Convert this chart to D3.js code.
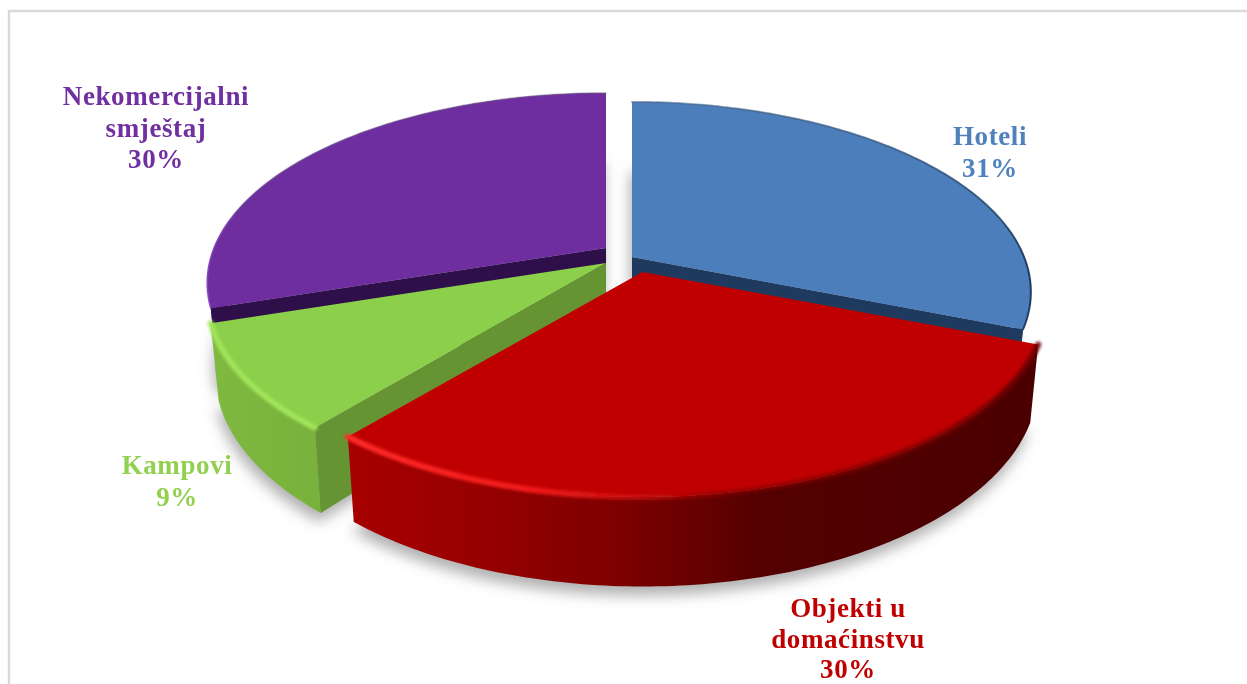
<!DOCTYPE html>
<html><head><meta charset="utf-8">
<script src="https://cdn.jsdelivr.net/npm/d3@7"></script>
<style>html,body{margin:0;padding:0;background:#fff}svg{display:block}</style>
</head><body><div id="chart"></div>
<script>
// Data
const categories = ["Hoteli", "Objekti u domaćinstvu", "Kampovi", "Nekomercijalni smještaj"];
const values = [31, 30, 9, 30];
const labelLines = [["Hoteli"], ["Objekti u", "domaćinstvu"], ["Kampovi"], ["Nekomercijalni", "smještaj"]];

// Styles
const topColors = ["#4c7ebb", "#c00000", "#8bcf4b", "#6f2e9f"];
const textColors = ["#4f81bd", "#c00000", "#92d050", "#7030a0"];
const endWallColors = ["#1f3a5f", null, "#669432", "#2e0f4a"];
const wallStops = [
  [[0, "#4f81bd"], [1, "#27456b"]],
  [[0, "#a80000"], [.2, "#960000"], [.4, "#7c0000"], [.6, "#540000"], [1, "#4a0000"]],
  [[0, "#7fb940"], [1, "#78b23c"]],
  [[0, "#7a35ae"], [1, "#7030a0"]]
];
const rimStops = [
  [[0, "#4a6a90", .6], [.6, "#3a5a80", .7], [.93, "#2a4a70", .9], [1, "#1f3a5f", 1]],
  [[0, "#ff2a2a", 1], [.28, "#f01818", 1], [.42, "#d01010", .7], [.55, "#8a0000", .6], [1, "#6a0000", .9]],
  [[0, "#a2e55a", 1], [1, "#a2e55a", 1]],
  [[0, "#8a45c4", .9], [.08, "#6a4a90", .6], [1, "#6a5a80", .5]]
];
const rimWidths = [2, 6, 5.5, 1.6];
// Layout: apex of each slice on the page, width factor per slice, perspective constants
const apex = [[632, 257], [642.5, 272], [606, 263], [606, 248]];
const widthFactor = [1, 1.012, 1, 1];
const K = .184, A = 183.6, B = 392, D = 73, SHRINK = .02;
const labelPos = [[990, 145], [848, 617], [177, 474], [156, 105]];
const lineHeights = [31.5, 30.5, 31.5, 31.5];

const W = 1247, H = 684;
const svg = d3.select("#chart").append("svg").attr("width", W).attr("height", H);
const defs = svg.append("defs");
const blur = (id, s) => defs.append("filter").attr("id", id)
  .attr("x", "-20%").attr("y", "-20%").attr("width", "140%").attr("height", "140%")
  .append("feGaussianBlur").attr("stdDeviation", s);
blur("shadow", 7); blur("soft", 1.5); blur("fine", .6);

svg.append("path").attr("fill", "none").attr("stroke", "#d9d9d9").attr("stroke-width", 2.5)
  .attr("d", d3.line()([[9, H + 5], [9, 11], [W + 5, 11]]));

const arcs = d3.pie().sort(null).value(d => d)(values);

function proj(i, angle, r, z) {
  const a = apex[i];
  const u = Math.sin(angle) * r, v = -Math.cos(angle) * r, s = 1 - K * v;
  return [a[0] + B * widthFactor[i] * u * (1 - SHRINK * z) / s, a[1] + (A * v + D * z) / s];
}
const line = d3.line();
const rim = (d, i, z) => d3.range(0, 121).map(k =>
  proj(i, d.startAngle + (d.endAngle - d.startAngle) * k / 120, 1, z));

const extentX = pts => d3.extent(pts, p => p[0]);
function grad(id, pts, stops) {
  const [x0, x1] = extentX(pts);
  const g = defs.append("linearGradient").attr("id", id).attr("gradientUnits", "userSpaceOnUse")
    .attr("x1", x0).attr("x2", x1).attr("y1", 0).attr("y2", 0);
  stops.forEach(s => g.append("stop").attr("offset", s[0]).attr("stop-color", s[1])
    .attr("stop-opacity", s[2] === undefined ? 1 : s[2]));
}

// soft ground shadows
const shadowG = svg.append("g").attr("filter", "url(#shadow)");
arcs.forEach((d, i) => {
  const pts = [proj(i, 0, 0, 1), ...rim(d, i, 1)];
  shadowG.append("path").attr("d", line(pts) + "Z").attr("fill", "#808080").attr("opacity", .62)
    .attr("transform", "translate(-2,9)");
});

// painter's order: back to front
[0, 3, 2, 1].forEach(i => {
  const d = arcs[i], g = svg.append("g");
  const top = rim(d, i, 0), bot = rim(d, i, 1);
  const o0 = proj(i, 0, 0, 0), o1 = proj(i, 0, 0, 1);
  // outer wall
  grad("wall" + i, top, wallStops[i]);
  g.append("path").attr("fill", `url(#wall${i})`)
    .attr("d", line([...top, ...bot.slice().reverse()]) + "Z");
  // cut wall facing the viewer
  if (endWallColors[i]) {
    const ang = i === 0 ? d.endAngle : d.startAngle;
    g.append("path").attr("fill", endWallColors[i])
      .attr("d", line([o0, proj(i, ang, 1, 0), proj(i, ang, 1, 1), o1]) + "Z");
  }
  // top face
  g.append("path").attr("fill", topColors[i]).attr("d", line([o0, ...top]) + "Z");
  // rim bevel
  grad("rim" + i, top, rimStops[i]);
  g.append("path").attr("fill", "none").attr("stroke", `url(#rim${i})`).attr("stroke-width", rimWidths[i])
    .attr("stroke-linecap", "round").attr("filter", rimWidths[i] > 3 ? "url(#soft)" : "url(#fine)")
    .attr("d", line(top));
});

// labels
values.forEach((val, i) => {
  const t = svg.append("text").attr("text-anchor", "middle").attr("fill", textColors[i])
    .attr("font-family", "'Liberation Serif', serif").attr("font-weight", 700)
    .attr("font-size", 27).attr("letter-spacing", .6);
  [...labelLines[i], val + "%"].forEach((s, j) => {
    t.append("tspan").attr("x", labelPos[i][0]).attr("y", labelPos[i][1] + j * lineHeights[i]).text(s);
  });
});
</script></body></html>
